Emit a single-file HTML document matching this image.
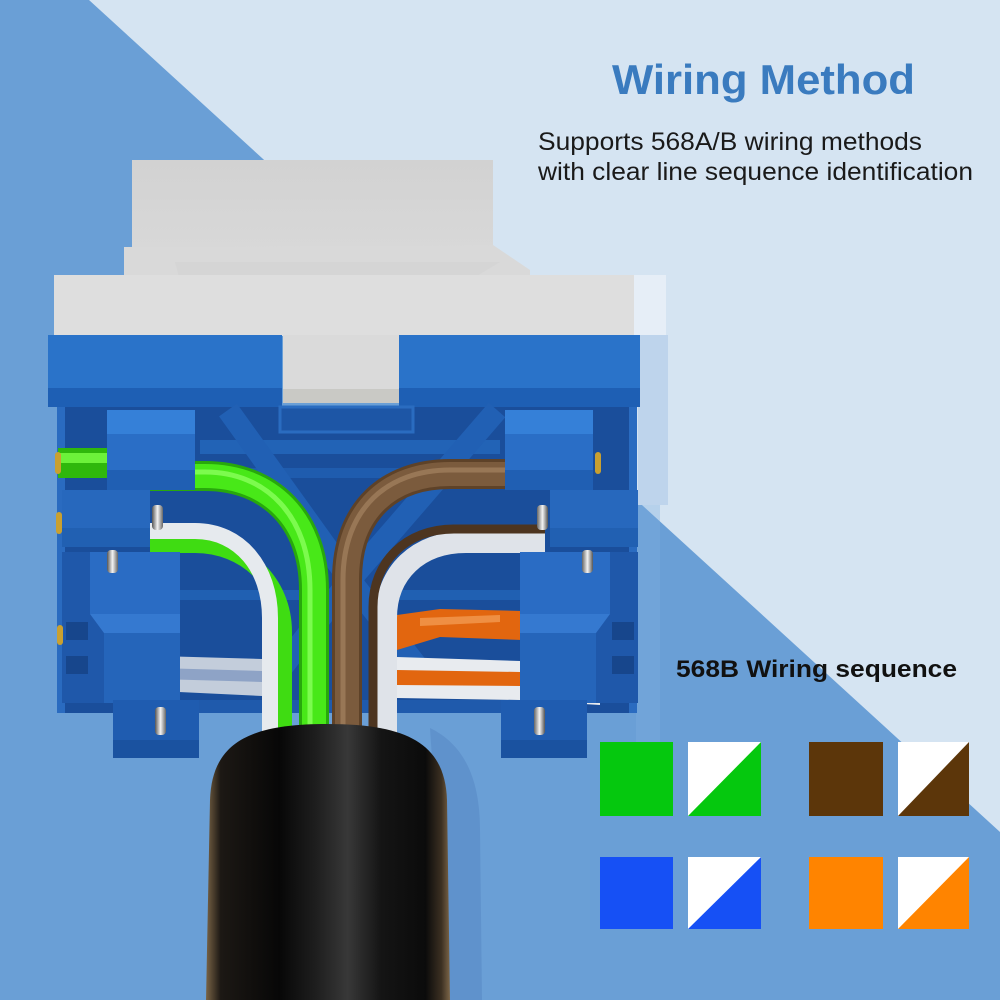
<!DOCTYPE html>
<html><head><meta charset="utf-8"><style>
html,body{margin:0;padding:0;width:1000px;height:1000px;overflow:hidden;background:#6a9fd6}
svg{display:block}
</style></head><body>
<svg width="1000" height="1000" viewBox="0 0 1000 1000" xmlns="http://www.w3.org/2000/svg">
<defs>
<linearGradient id="cab" x1="0" x2="1" y1="0" y2="0">
<stop offset="0" stop-color="#7a6446"/><stop offset="0.06" stop-color="#1c1814"/>
<stop offset="0.3" stop-color="#070707"/><stop offset="0.45" stop-color="#1e1e1e"/>
<stop offset="0.58" stop-color="#383838"/><stop offset="0.72" stop-color="#141414"/>
<stop offset="0.9" stop-color="#0b0b0b"/><stop offset="0.965" stop-color="#3c3022"/>
<stop offset="1" stop-color="#7c6648"/></linearGradient>
<linearGradient id="pin" x1="0" x2="1"><stop offset="0" stop-color="#555"/><stop offset="0.5" stop-color="#f4f4f4"/><stop offset="1" stop-color="#666"/></linearGradient>
<linearGradient id="wm" x1="0" x2="0" y1="0" y2="1"><stop offset="0" stop-color="#d2d2d2"/><stop offset="1" stop-color="#d8d8d8"/></linearGradient>
<g id="clips">
  <rect x="107" y="410" width="88" height="80" fill="#2a6ec6"/>
  <rect x="107" y="410" width="88" height="24" fill="#3580d8"/>
  <rect x="107" y="470" width="88" height="20" fill="#205fb3"/>
  <rect x="62" y="490" width="88" height="57" fill="#2768bd"/>
  <rect x="62" y="528" width="88" height="19" fill="#2160b2"/>
  <rect x="62" y="552" width="118" height="151" fill="#1f58aa"/>
  <rect x="90" y="552" width="90" height="62" fill="#2a6cc4"/>
  <polygon points="90,614 180,614 180,633 104,633" fill="#3579d0"/>
  <rect x="104" y="633" width="76" height="70" fill="#2565ba"/>
  <rect x="66" y="622" width="22" height="18" fill="#17468c"/>
  <rect x="66" y="656" width="22" height="18" fill="#17468c"/>
  <rect x="113" y="700" width="86" height="58" fill="#1f5cb0"/>
  <rect x="113" y="740" width="86" height="18" fill="#1a52a0"/>
  <rect x="152" y="505" width="11" height="25" rx="4" fill="url(#pin)"/>
  <rect x="107" y="550" width="11" height="23" rx="4" fill="url(#pin)"/>
  <rect x="155" y="707" width="11" height="28" rx="4" fill="url(#pin)"/>
</g>
</defs>

<rect width="1000" height="1000" fill="#6a9fd6"/>
<polygon points="89,0 1000,0 1000,832" fill="#d5e4f2"/>

<rect x="634" y="275" width="32" height="60" fill="#e6eef7"/>
<rect x="638" y="335" width="30" height="170" fill="#bed4ec"/>
<rect x="636" y="505" width="24" height="250" fill="#7eaee0" opacity="0.35"/>

<rect x="132" y="160" width="361" height="90" fill="url(#wm)"/>
<polygon points="124,247 493,245 530,270 530,276 124,276" fill="#d9d9d9"/>
<polygon points="175,262 500,262 470,280 180,280" fill="#d2d2d2" opacity="0.6"/>
<rect x="54" y="275" width="580" height="61" fill="#dedede"/>
<rect x="283" y="335" width="116" height="68" fill="#dadada"/>
<rect x="283" y="389" width="116" height="14" fill="#c9c9c5"/>

<rect x="48" y="335" width="234" height="72" fill="#2a73c9"/>
<rect x="48" y="388" width="234" height="19" fill="#1e5fb4"/>
<rect x="399" y="335" width="241" height="72" fill="#2a73c9"/>
<rect x="399" y="388" width="241" height="19" fill="#1e5fb4"/>

<rect x="57" y="407" width="580" height="306" fill="#1a4e9b"/>
<rect x="57" y="407" width="8" height="306" fill="#2a6bc0"/>
<rect x="629" y="407" width="8" height="306" fill="#2a6bc0"/>
<rect x="280" y="407" width="133" height="25" fill="#1d56a6" stroke="#2a6cc0" stroke-width="3"/>
<rect x="200" y="440" width="300" height="14" fill="#2263b6"/>
<rect x="200" y="468" width="300" height="10" fill="#1f5cae"/>
<g stroke="#2160b4" stroke-width="22" stroke-linecap="butt" fill="none">
  <line x1="228" y1="410" x2="350" y2="580"/>
  <line x1="497" y1="410" x2="350" y2="580"/>
  <line x1="350" y1="580" x2="280" y2="670"/>
  <line x1="350" y1="580" x2="420" y2="670"/>
</g>
<rect x="180" y="590" width="340" height="10" fill="#2060b2"/>
<rect x="180" y="700" width="340" height="13" fill="#1f5aac"/>

<polygon points="158,656 262,659 262,696 158,691" fill="#c3cddb"/>
<polygon points="158,668 262,671 262,682 158,679" fill="#8ea3c6"/>
<polygon points="397,615 440,609 522,611 522,640 440,637 397,650" fill="#e2660f"/>
<polygon points="420,618 500,615 500,622 420,626" fill="#f39a50" opacity="0.8"/>
<polygon points="397,657 520,661 600,668 600,705 520,700 397,698" fill="#e8ebef"/>
<polygon points="397,670 520,672 600,679 600,690 520,686 397,685" fill="#e2660f"/>

<path d="M58,463 L112,463" stroke="#2fb80c" stroke-width="30" fill="none"/>
<path d="M58,458 L112,458" stroke="#6cf23a" stroke-width="10" fill="none"/>

<path d="M150,545 L195,545 C245,545 284,582 284,632 L284,740" stroke="#3fdc12" stroke-width="16" fill="none"/>
<path d="M150,531 L195,531 C240,531 270,568 270,618 L270,740" stroke="#e6eaee" stroke-width="16" fill="none"/>

<path d="M150,476 L205,476 C270,476 314,520 314,590 L314,740" stroke="#28a80c" stroke-width="30" fill="none"/>
<path d="M150,476 L205,476 C270,476 314,520 314,590 L314,740" stroke="#48e818" stroke-width="24" fill="none"/>
<path d="M150,472 L205,472 C266,472 310,516 310,590 L310,740" stroke="#8aff5c" stroke-width="5" fill="none" opacity="0.8"/>

<path d="M386,740 L386,618 C386,573 418,542 466,542 L545,542" stroke="#dfe3e9" stroke-width="22" fill="none"/>
<path d="M373,740 L373,607 C373,562 406,529 454,529 L545,529" stroke="#4d3520" stroke-width="9" fill="none"/>

<path d="M347,740 L347,580 C347,510 390,474 450,474 L510,474" stroke="#5e4228" stroke-width="30" fill="none"/>
<path d="M347,740 L347,580 C347,510 390,474 450,474 L510,474" stroke="#7b5b3d" stroke-width="24" fill="none"/>
<path d="M343,740 L343,580 C343,508 388,470 450,470 L510,470" stroke="#a07e5c" stroke-width="5" fill="none" opacity="0.8"/>

<use href="#clips"/>
<use href="#clips" transform="translate(700,0) scale(-1,1)"/>

<rect x="55" y="452" width="6" height="22" rx="3" fill="#c9a030"/>
<rect x="56" y="512" width="6" height="22" rx="3" fill="#c9a030"/>
<rect x="57" y="625" width="6" height="20" rx="3" fill="#c9a030"/>
<rect x="595" y="452" width="6" height="22" rx="3" fill="#c9a030"/>

<path d="M430,728 C465,745 480,780 480,830 L482,1000 L448,1000 Z" fill="#4f80bd" opacity="0.4"/>
<path d="M206,1000 L210,800 C212,742 250,724 327,724 C405,724 445,742 447,800 L450,1000 Z" fill="url(#cab)"/>

<text x="612" y="94" font-family="Liberation Sans, sans-serif" font-weight="bold" font-size="42" fill="#3a7bbf" textLength="303" lengthAdjust="spacingAndGlyphs">Wiring Method</text>
<text x="538" y="150" font-family="Liberation Sans, sans-serif" font-size="25" fill="#1a1a1a" textLength="384" lengthAdjust="spacingAndGlyphs">Supports 568A/B wiring methods</text>
<text x="538" y="180" font-family="Liberation Sans, sans-serif" font-size="25" fill="#1a1a1a" textLength="435" lengthAdjust="spacingAndGlyphs">with clear line sequence identification</text>
<text x="676" y="677" font-family="Liberation Sans, sans-serif" font-weight="bold" font-size="24" fill="#111" textLength="281" lengthAdjust="spacingAndGlyphs">568B Wiring sequence</text>

<rect x="600" y="742" width="73" height="74" fill="#05c80e"/>
<rect x="688" y="742" width="73" height="74" fill="#ffffff"/>
<polygon points="688,816 761,742 761,816" fill="#05c80e"/>
<rect x="809" y="742" width="74" height="74" fill="#5c360a"/>
<rect x="898" y="742" width="71" height="74" fill="#ffffff"/>
<polygon points="898,816 969,742 969,816" fill="#5c360a"/>
<rect x="600" y="857" width="73" height="72" fill="#1650f5"/>
<rect x="688" y="857" width="73" height="72" fill="#ffffff"/>
<polygon points="688,929 761,857 761,929" fill="#1650f5"/>
<rect x="809" y="857" width="74" height="72" fill="#ff8400"/>
<rect x="898" y="857" width="71" height="72" fill="#ffffff"/>
<polygon points="898,929 969,857 969,929" fill="#ff8400"/>
</svg>
</body></html>
